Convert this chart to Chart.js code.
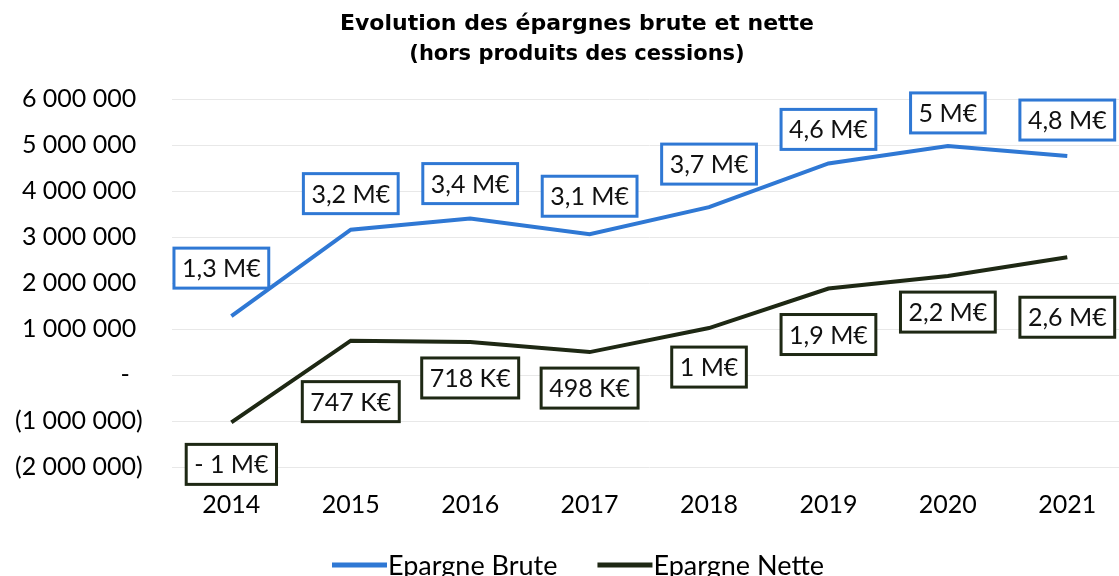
<!DOCTYPE html>
<html>
<head>
<meta charset="utf-8">
<script src="https://cdn.jsdelivr.net/npm/chart.js@4.4.1/dist/chart.umd.min.js"></script>
<style>
  html, body { margin: 0; padding: 0; background: #fff; overflow: hidden; }
  #wrap { width: 1135px; height: 592px; position: relative; }
</style>
</head>
<body>
<div id="wrap"><canvas id="epargneChart"></canvas></div>
<script>
// Epargne brute / nette, en euros
const years = ['2014', '2015', '2016', '2017', '2018', '2019', '2020', '2021'];
const epargneBrute = [1280000, 3160000, 3400000, 3060000, 3650000, 4600000, 4980000, 4760000];
const epargneNette = [-1030000, 747000, 718000, 498000, 1020000, 1880000, 2150000, 2560000];

const chartTitle = 'Evolution des épargnes brute et nette';
const chartSubtitle = '(hors produits des cessions)';

const colorBrute = '#2f78d4';
const colorNette = '#1e2814';
const textFont = 'Lato';

// format comptable : 6 000 000 / (1 000 000) / -
const formatTick = v => {
  if (v === 0) return '-  ';
  const s = Math.abs(v).toString().replace(/\B(?=(\d{3})+(?!\d))/g, ' ');
  return v < 0 ? '(' + s + ')' : s + ' ';
};

// 747 K€ / 1,3 M€ / - 1 M€
const formatEuro = v => {
  const sign = v < 0 ? '- ' : '';
  const a = Math.abs(v);
  if (a < 950000) return sign + Math.round(a / 1000) + ' K€';
  const m = Math.round(a / 100000) / 10;
  return sign + m.toString().replace('.', ',') + ' M€';
};

// Two-line heading, centred on a fixed x
const heading = {
  id: 'heading',
  afterDraw(chart, args, opts) {
    const ctx = chart.ctx;
    ctx.save();
    ctx.fillStyle = '#000';
    ctx.textAlign = 'center';
    ctx.textBaseline = 'middle';
    opts.lines.forEach(line => {
      ctx.font = line.font;
      ctx.fillText(line.text, opts.x, line.y);
    });
    ctx.restore();
  }
};

// Boxed value labels next to each point
const valueBoxes = {
  id: 'valueBoxes',
  afterDatasetsDraw(chart, args, opts) {
    const ctx = chart.ctx;
    chart.data.datasets.forEach((ds, di) => {
      const meta = chart.getDatasetMeta(di);
      const shift = opts.shifts[di];
      meta.data.forEach((pt, i) => {
        const text = formatEuro(ds.data[i]);
        ctx.save();
        ctx.font = opts.font;
        const w = ctx.measureText(text).width + 2 * opts.padX;
        const h = opts.height;
        const cx = pt.x + shift.dx[i];
        const cy = pt.y + shift.dy[i];
        ctx.fillStyle = '#fff';
        ctx.fillRect(cx - w / 2, cy - h / 2, w, h);
        ctx.strokeStyle = ds.borderColor;
        ctx.lineWidth = 3;
        ctx.strokeRect(cx - w / 2, cy - h / 2, w, h);
        ctx.fillStyle = '#111';
        ctx.textAlign = 'center';
        ctx.textBaseline = 'middle';
        ctx.fillText(text, cx, cy + 1);
        ctx.restore();
      });
    });
  }
};

// Legend: line swatch directly followed by the series name
const lineLegend = {
  id: 'lineLegend',
  afterDraw(chart, args, opts) {
    const ctx = chart.ctx;
    ctx.save();
    ctx.font = opts.font;
    const items = chart.data.datasets.map(ds => ({
      text: ds.label,
      color: ds.borderColor,
      w: opts.swatch + opts.gap + ctx.measureText(ds.label).width
    }));
    const total = items.reduce((s, it) => s + it.w, 0) + opts.spacing * (items.length - 1);
    let x = opts.centerX - total / 2;
    items.forEach(it => {
      ctx.fillStyle = it.color;
      ctx.fillRect(x, opts.y - 2.5, opts.swatch, 5);
      ctx.fillStyle = '#000';
      ctx.textBaseline = 'middle';
      ctx.textAlign = 'left';
      ctx.fillText(it.text, x + opts.swatch + opts.gap, opts.y + 1);
      x += it.w + opts.spacing;
    });
    ctx.restore();
  }
};

new Chart(document.getElementById('epargneChart'), {
  type: 'line',
  data: {
    labels: years,
    datasets: [
      {
        label: 'Epargne Brute',
        data: epargneBrute,
        borderColor: colorBrute,
        backgroundColor: colorBrute,
        borderWidth: 4,
        pointRadius: 0,
        tension: 0
      },
      {
        label: 'Epargne Nette',
        data: epargneNette,
        borderColor: colorNette,
        backgroundColor: colorNette,
        borderWidth: 4,
        pointRadius: 0,
        tension: 0
      }
    ]
  },
  plugins: [heading, valueBoxes, lineLegend],
  options: {
    responsive: true,
    maintainAspectRatio: false,
    animation: false,
    layout: { padding: { left: -14, right: 8, top: 99, bottom: 57 } },
    plugins: {
      title: { display: false },
      legend: { display: false },
      tooltip: { enabled: false },
      heading: {
        x: 577,
        lines: [
          { text: chartTitle, font: 'bold 22px "DejaVu Sans"', y: 24 },
          { text: chartSubtitle, font: 'bold 21px "DejaVu Sans"', y: 55 }
        ]
      },
      lineLegend: {
        font: '27px ' + textFont,
        swatch: 55,
        gap: 1,
        spacing: 40,
        centerX: 578,
        y: 565
      },
      valueBoxes: {
        font: '25px ' + textFont,
        padX: 8,
        height: 40,
        shifts: [
          { dx: [-10, 0, 0, 0, 0, 0, 0, 0], dy: [-48, -36, -35, -38, -43, -34, -33, -36] },
          { dx: [0, 0, 0, 0, 0, 0, 0, 0], dy: [42, 61, 36, 36, 39, 46, 36, 60] }
        ]
      }
    },
    scales: {
      x: {
        offset: true,
        grid: { display: false },
        border: { display: false },
        ticks: {
          color: '#000',
          font: { family: textFont, size: 25 },
          padding: 15
        }
      },
      y: {
        min: -2000000,
        max: 6000000,
        border: { display: false },
        grid: { color: '#e8e8e8', lineWidth: 1, drawTicks: false },
        ticks: {
          stepSize: 1000000,
          color: '#000',
          font: { family: textFont, size: 25 },
          padding: 29,
          callback: v => formatTick(v)
        }
      }
    }
  }
});
</script>
</body>
</html>
